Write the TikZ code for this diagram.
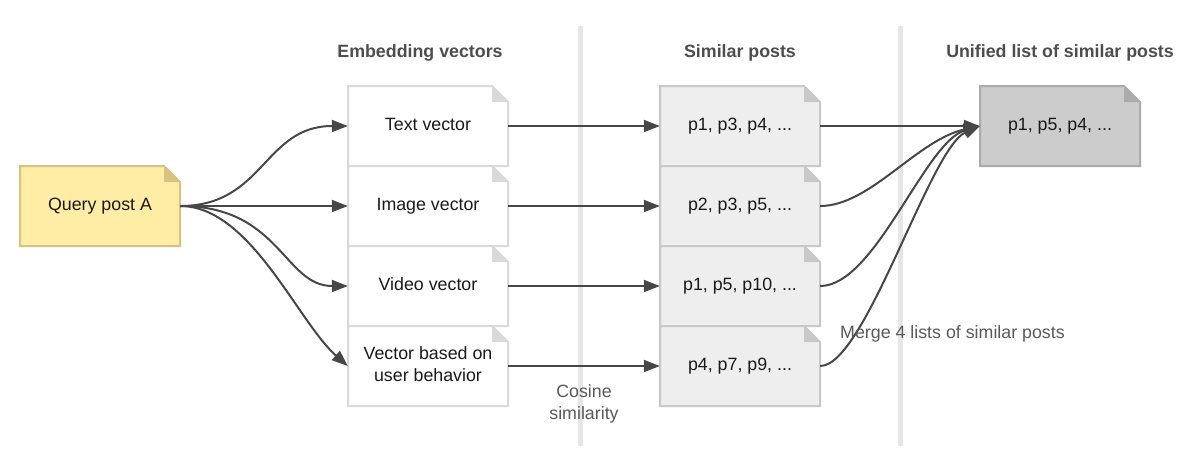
\documentclass[tikz,border=0pt]{standalone}
\usepackage{fontspec}
\setmainfont{Liberation Sans}
\usetikzlibrary{arrows.meta}
\definecolor{qfill}{HTML}{FFEDA6}
\definecolor{qline}{HTML}{D9C27F}
\definecolor{vline}{HTML}{D9D9D9}
\definecolor{sfill}{HTML}{EEEEEE}
\definecolor{sline}{HTML}{C8C8C8}
\definecolor{ufill}{HTML}{CCCCCC}
\definecolor{uline}{HTML}{ABABAB}
\definecolor{arrcol}{HTML}{474747}
\definecolor{headcol}{HTML}{4D4D4D}
\definecolor{labcol}{HTML}{595959}
\definecolor{sepcol}{HTML}{E6E6E6}
\definecolor{txtcol}{HTML}{1A1A1A}
\newcommand\docnote[7]{%
  \begin{scope}[shift={(#2,#3)}]
    \filldraw[fill=#4,draw=#5,line width=2pt,line join=miter]
      (-80,-40) -- (64,-40) -- (80,-24) -- (80,40) -- (-80,40) -- cycle;
    \fill[#5] (64,-40) -- (80,-24) -- (64,-24) -- cycle;
  \end{scope}
  \node[docbox,#7] (#1) at (#2,#3) {#6};
}
\begin{document}
\begin{tikzpicture}[x=1pt,y=-1pt,
  font=\fontsize{17.8}{21.5}\selectfont,
  docbox/.style={minimum width=160pt,minimum height=80pt,inner sep=0pt,align=center,text=txtcol,text depth=3.8pt},
  arr/.style={draw=arrcol,line width=2pt,-{Triangle[length=16pt,width=12pt]},fill=none},
  heading/.style={font=\fontsize{17.8}{21.5}\selectfont\bfseries,text=headcol,inner sep=0pt},
  lab/.style={text=labcol,inner sep=0pt,align=center},
  sep/.style={draw=sepcol,line width=5pt}]
\useasboundingbox (0,0) rectangle (1200,472);
% separators
\coordinate (s1t) at (580,26); \coordinate (s1b) at (580,446);
\coordinate (s2t) at (900,26); \coordinate (s2b) at (900,446);
\draw[sep] (s1t) -- (s1b);
\draw[sep] (s2t) -- (s2b);
% headings
\node[heading] (h1) at (420,53) {Embedding vectors};
\node[heading] (h2) at (740,53) {Similar posts};
\node[heading] (h3) at (1060,53) {Unified list of similar posts};
% boxes
\docnote{q}{100}{206}{qfill}{qline}{Query post A}{}
\docnote{tv}{428}{126}{white}{vline}{Text vector}{}
\docnote{iv}{428}{206}{white}{vline}{Image vector}{}
\docnote{vv}{428}{286}{white}{vline}{Video vector}{}
\docnote{ub}{428}{366}{white}{vline}{Vector based on\\user behavior}{}
\docnote{s1}{740}{126}{sfill}{sline}{p1, p3, p4, ...}{}
\docnote{s2}{740}{206}{sfill}{sline}{p2, p3, p5, ...}{}
\docnote{s3}{740}{286}{sfill}{sline}{p1, p5, p10, ...}{}
\docnote{s4}{740}{366}{sfill}{sline}{p4, p7, p9, ...}{}
\docnote{u}{1060}{126}{ufill}{uline}{p1, p5, p4, ...}{}
% query to vectors
\draw[arr] (q.east) .. controls +(84,0) and +(-84,0) .. (tv.west);
\draw[arr] (q.east) -- (iv.west);
\draw[arr] (q.east) .. controls +(100,0) and +(-64,0) .. (vv.west);
\draw[arr] (q.east) .. controls +(70,0) and +(-50,-44) .. (ub.west);
% vectors to similar posts
\draw[arr] (tv.east) -- (s1.west);
\draw[arr] (iv.east) -- (s2.west);
\draw[arr] (vv.east) -- (s3.west);
\draw[arr] (ub.east) -- (s4.west);
% merge
\draw[arr] (s1.east) -- (u.west);
\draw[arr] (s2.east) .. controls +(50,0) and +(-63,14) .. (u.west);
\draw[arr] (s3.east) .. controls +(55,0) and +(-55,16) .. (u.west);
\draw[arr] (s4.east) .. controls +(45,0) and +(-50,22) .. (u.west);
% labels
\node[lab] (cos) at (584,404) {Cosine\\similarity};
\node[lab,anchor=west] (merge) at (840,334) {Merge 4 lists of similar posts};
\end{tikzpicture}
\end{document}
